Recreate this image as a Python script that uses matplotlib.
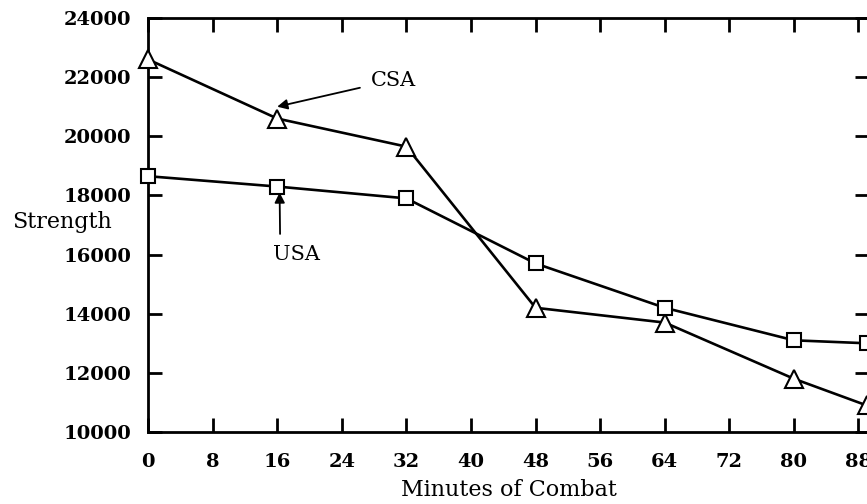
import matplotlib
matplotlib.use("Agg")
import matplotlib.pyplot as plt

# data
minutes = [0, 16, 32, 48, 64, 80, 89]
csa = [22600, 20600, 19650, 14200, 13700, 11800, 10900]
usa = [18650, 18300, 17900, 15700, 14200, 13100, 13000]
xticks = [0, 8, 16, 24, 32, 40, 48, 56, 64, 72, 80, 88]
yticks = [10000, 12000, 14000, 16000, 18000, 20000, 22000, 24000]

plt.rcParams['font.family'] = ['DejaVu Serif']

fig = plt.figure(figsize=(8.67, 5.04), dpi=100)
# right spine sits just past the image edge, as in the scan
ax = fig.add_axes([0.1707, 0.1429, 0.8316, 0.8214])

ax.plot(minutes, csa, color='black', lw=1.9, marker='^', ms=13,
        mfc='white', mec='black', mew=1.5, clip_on=False, zorder=3)
ax.plot(minutes, usa, color='black', lw=1.9, marker='s', ms=10,
        mfc='white', mec='black', mew=1.5, clip_on=False, zorder=3)

ax.set_xlim(0, 89.3)
ax.set_ylim(10000, 24000)
ax.set_xticks(xticks)
ax.set_yticks(yticks)
ax.tick_params(direction='in', length=10, width=2, top=True, right=True,
               labelsize=14)
ax.tick_params(axis='x', pad=15)
ax.tick_params(axis='y', pad=12)
for lab in ax.get_xticklabels() + ax.get_yticklabels():
    lab.set_fontweight('bold')
for s in ax.spines.values():
    s.set_linewidth(2)

ax.set_xlabel('Minutes of Combat', fontsize=16, labelpad=6)
ax.set_ylabel('Strength', fontsize=16, rotation=0, va='center', ha='left')
ax.yaxis.set_label_coords(-0.189, 0.507)

ax.annotate('CSA', xy=(16.0, 21000), xytext=(27.6, 21900), fontsize=15,
            va='center', ha='left',
            arrowprops=dict(arrowstyle='-|>', color='black', lw=1.3,
                            shrinkA=6, shrinkB=0))
ax.annotate('USA', xy=(16.3, 18100), xytext=(15.5, 16000), fontsize=15,
            va='center', ha='left',
            arrowprops=dict(arrowstyle='-|>', color='black', lw=1.3,
                            shrinkA=6, shrinkB=0, relpos=(0.15, 1)))

fig.savefig('out.png', dpi=100)
